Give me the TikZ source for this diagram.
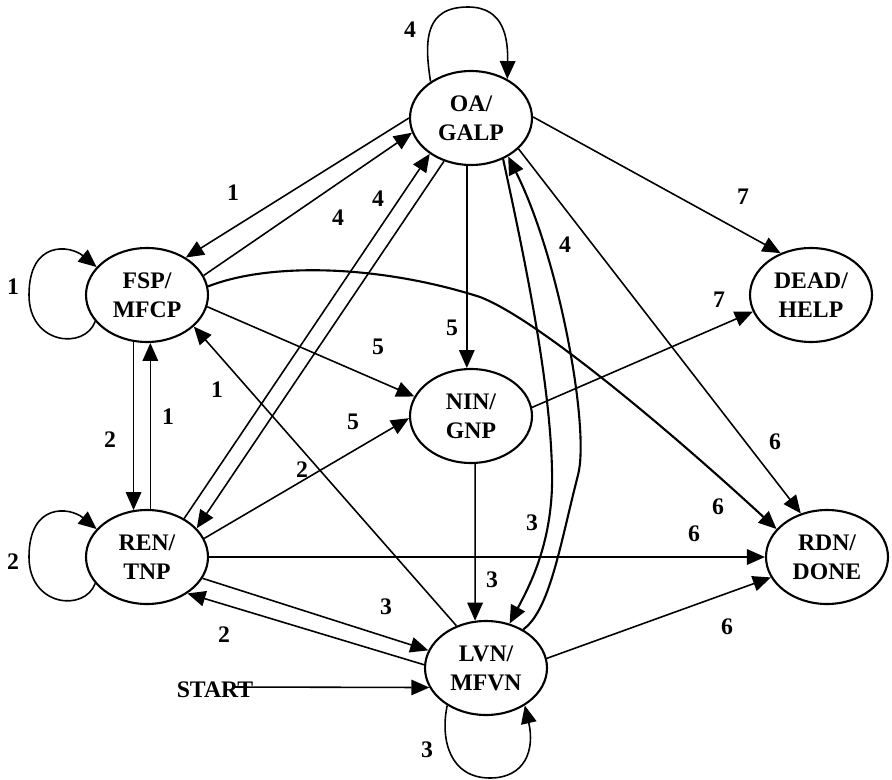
\documentclass[tikz,border=0pt]{standalone}
\usepackage{fontspec}
\setmainfont{Liberation Serif}
\usetikzlibrary{arrows.meta,shapes.geometric}

\begin{document}
\begin{tikzpicture}[x=0.02cm,y=-0.02cm,font=\bfseries\fontsize{13.5}{16.5}\selectfont,>={Triangle[length=0.36cm,width=0.31cm]},line width=0.9pt,
  state/.style={draw,ellipse,minimum width=2.44cm,minimum height=1.88cm,inner sep=0pt,align=center,line width=1.2pt},
  curv/.style={line width=1.2pt}]
\useasboundingbox (0,0) rectangle (892,780);
\node[state] (oa) at (471,118) {OA/\\GALP};
\node[state] (fsp) at (147,295) {FSP/\\MFCP};
\node[state] (ren) at (147,557) {REN/\\TNP};
\node[state] (nin) at (471,416) {NIN/\\GNP};
\node[state] (dead) at (811,295) {DEAD/\\HELP};
\node[state] (rdn) at (827,557) {RDN/\\DONE};
\node[state] (lvn) at (486,668) {LVN/\\MFVN};
\node[inner sep=0pt] (start) at (215,690) {START};
\coordinate (s0) at (233,687);
% loops
\draw[->] (oa.138) .. controls (424,40) and (425,7) .. (468,7) .. controls (505,7) and (508,40) .. (oa.47);
\draw[->] (fsp.207) .. controls (85,350) and (29,345) .. (29,295) .. controls (29,240) and (70,245) .. (fsp.151);
\draw[->] (ren.207) .. controls (85,612) and (29,607) .. (29,557) .. controls (29,502) and (70,507) .. (ren.151);
\draw[->] (lvn.224) .. controls (440,740) and (450,778) .. (490,778) .. controls (525,778) and (535,750) .. (lvn.316);
% straight transitions
\draw[->] (oa.180) -- (fsp.44); \draw[->] (fsp.19) -- (oa.194);
\draw[->] (ren.46) -- (oa.221); \draw[->] (oa.238) -- (ren.30);
\draw[->] (fsp.254) -- (ren.106); \draw[->] (ren.86) -- (fsp.274);
\draw[->] (fsp.349) -- (nin.161); \draw[->] (lvn.125) -- (fsp.326);
\draw[->] (ren.18) -- (nin.182); \draw[->] (oa.265) -- (nin.95);
\draw[->] (nin.8) -- (dead.196); \draw[->] (oa.1) -- (dead.126);
\draw[->] (oa.327) -- (rdn.121); \draw[->] (nin.275) -- (lvn.103);
\draw[->] (ren.339) -- (lvn.163); \draw[->] (lvn.177) -- (ren.318);
\draw[->] (ren) -- (rdn); \draw[->] (lvn.9) -- (rdn.200);
\draw[->] (s0) -- (lvn.199);
% curved transitions
\draw[->,curv] (fsp.8) .. controls (270,262) and (380,265) .. (480,297) .. controls (540,320) and (680,440) .. (rdn.151);
\draw[->,curv] (oa.308) .. controls (525,260) and (550,380) .. (552,470) .. controls (554,540) and (530,585) .. (lvn.62);
\draw[->,curv] (lvn.46) .. controls (550,610) and (560,545) .. (578,475) .. controls (590,430) and (560,260) .. (oa.314);
% labels
\foreach \x/\y/\t [count=\i] in {410/30/4,233/193/1,338/218/4,378/199/4,13/287/1,378/347/5,452/328/5,217/390/1,353/422/5,302/470/2,110/440/2,168/417/1,13/562/2,386/607/3,224/635/2,427/750/3,743/197/7,719/300/7,565/245/4,532/523/3,492/580/3,775/442/6,718/507/6,694/534/6,727/627/6}
  \node[inner sep=0pt] (lab\i) at (\x,\y) {\t};
\end{tikzpicture}
\end{document}
